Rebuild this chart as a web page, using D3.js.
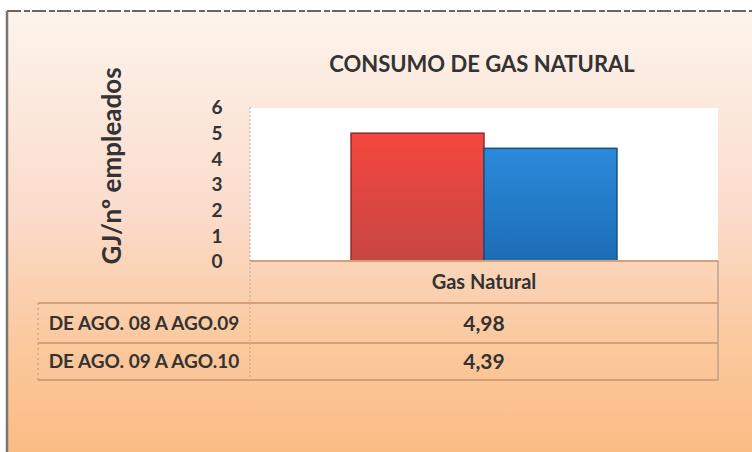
<!DOCTYPE html>
<html>
<head>
<meta charset="utf-8">
<script src="https://cdn.jsdelivr.net/npm/d3@7"></script>
<style>
  html, body { margin: 0; padding: 0; background: #fff; }
  #chart { width: 752px; height: 452px; }
  text { font-family: Lato, "Open Sans", sans-serif; font-weight: bold; fill: #333; }
</style>
</head>
<body>
<div id="chart"></div>
<script>
// datos del gráfico
const categorias = ["Gas Natural"];
const series = ["DE AGO. 08 A AGO.09", "DE AGO. 09 A AGO.10"];
const valores = [4.98, 4.39];
const etiquetasValor = ["4,98", "4,39"];
const ticksY = [0, 1, 2, 3, 4, 5, 6];
const titulo = "CONSUMO DE GAS NATURAL";
const tituloEjeY = "GJ/nº empleados";

const width = 752, height = 452;
const plot = { left: 250, right: 718, top: 107, bottom: 261 };
const filaAlto = [42, 40, 37]; // cabecera, fila 1, fila 2

const svg = d3.select("#chart").append("svg")
  .attr("width", width)
  .attr("height", height);

const defs = svg.append("defs");

// fondo degradado
const bg = defs.append("linearGradient").attr("id", "bg")
  .attr("x1", 0).attr("y1", 0).attr("x2", 0).attr("y2", 1);
bg.append("stop").attr("offset", "0%").attr("stop-color", "#fdf4ec");
bg.append("stop").attr("offset", "45%").attr("stop-color", "#fbdccc");
bg.append("stop").attr("offset", "75%").attr("stop-color", "#fbc99e");
bg.append("stop").attr("offset", "100%").attr("stop-color", "#fbbc84");

const gradRed = defs.append("linearGradient").attr("id", "gRed")
  .attr("x1", 0).attr("y1", 0).attr("x2", 0).attr("y2", 1);
gradRed.append("stop").attr("offset", "0%").attr("stop-color", "#f5473e");
gradRed.append("stop").attr("offset", "100%").attr("stop-color", "#c74644");

const gradBlue = defs.append("linearGradient").attr("id", "gBlue")
  .attr("x1", 0).attr("y1", 0).attr("x2", 0).attr("y2", 1);
gradBlue.append("stop").attr("offset", "0%").attr("stop-color", "#2c8ada");
gradBlue.append("stop").attr("offset", "100%").attr("stop-color", "#1c6db6");

svg.append("rect")
  .attr("x", 7).attr("y", 11)
  .attr("width", width - 7).attr("height", height - 11)
  .attr("fill", "url(#bg)");

// borde escaneado
svg.append("line").attr("x1", 7).attr("x2", width).attr("y1", 11).attr("y2", 11)
  .attr("stroke", "#666").attr("stroke-width", 2).attr("stroke-dasharray", "14 3 6 2");
svg.append("line").attr("x1", 7).attr("x2", 7).attr("y1", 11).attr("y2", height)
  .attr("stroke", "#777").attr("stroke-width", 2.5);

// área de trazado
svg.append("rect")
  .attr("x", plot.left).attr("y", plot.top + 1)
  .attr("width", plot.right - plot.left).attr("height", plot.bottom - plot.top)
  .attr("fill", "#ffffff");

const x0 = d3.scaleBand()
  .domain(categorias)
  .range([plot.left, plot.right]);

const x1 = d3.scaleBand()
  .domain(series)
  .range([0, x0.bandwidth()])
  .paddingOuter(0.76)
  .paddingInner(0);

const y = d3.scaleLinear()
  .domain([0, 6])
  .range([plot.bottom, plot.top]);

const color = d3.scaleOrdinal().domain(series).range(["url(#gRed)", "url(#gBlue)"]);
const borde = d3.scaleOrdinal().domain(series).range(["#8c2e2c", "#17507f"]);

// eje Y
const ejeY = svg.append("g")
  .attr("transform", `translate(${plot.left - 33},0)`)
  .call(d3.axisLeft(y).tickValues(ticksY).tickSize(0).tickPadding(0).tickFormat(d3.format("d")));
ejeY.select(".domain").remove();
ejeY.selectAll("text")
  .attr("text-anchor", "middle")
  .attr("dy", "0.36em")
  .style("font-size", "19px")
  .style("font-family", "Lato, sans-serif")
  .style("fill", "#333");

// línea punteada izquierda
svg.append("line")
  .attr("x1", plot.left).attr("x2", plot.left)
  .attr("y1", plot.top).attr("y2", plot.bottom + filaAlto[0] + filaAlto[1] + filaAlto[2])
  .attr("stroke", "#b9a89c").attr("stroke-width", 1).attr("stroke-dasharray", "2 2");

// barras
const datos = series.map((s, i) => ({ serie: s, valor: valores[i], cat: categorias[0] }));
svg.append("g").selectAll("rect")
  .data(datos)
  .enter()
  .append("rect")
  .attr("x", d => x0(d.cat) + x1(d.serie))
  .attr("y", d => y(d.valor))
  .attr("width", x1.bandwidth())
  .attr("height", d => y(0) - y(d.valor))
  .attr("fill", d => color(d.serie))
  .attr("stroke", d => borde(d.serie))
  .attr("stroke-width", 1.5);

// título
svg.append("text")
  .attr("x", 482).attr("y", 72)
  .attr("text-anchor", "middle")
  .style("font-size", "22px")
  .text(titulo);

// título eje Y
svg.append("text")
  .attr("transform", "translate(121,166) rotate(-90)")
  .attr("text-anchor", "middle")
  .style("font-size", "26px")
  .text(tituloEjeY);

// tabla de datos
const tabla = svg.append("g");
const yFila = [plot.bottom, plot.bottom + filaAlto[0], plot.bottom + filaAlto[0] + filaAlto[1]];
const yFin = yFila[2] + filaAlto[2];
const lineaColor = "#d4a07c";

// líneas horizontales
[yFila[0], yFila[1], yFila[2], yFin].forEach((yy, i) => {
  tabla.append("line")
    .attr("x1", i === 0 ? plot.left : 38).attr("x2", plot.right)
    .attr("y1", yy).attr("y2", yy)
    .attr("stroke", lineaColor).attr("stroke-width", 2);
});
tabla.append("line")
  .attr("x1", plot.right).attr("x2", plot.right)
  .attr("y1", yFila[0]).attr("y2", yFin)
  .attr("stroke", "#bfa08c").attr("stroke-width", 1.5);
tabla.append("line")
  .attr("x1", 38).attr("x2", 38)
  .attr("y1", yFila[1]).attr("y2", yFin)
  .attr("stroke", "#a89888").attr("stroke-width", 1).attr("stroke-dasharray", "2 3");

// cabecera
tabla.append("text")
  .attr("x", x0(categorias[0]) + x0.bandwidth() / 2)
  .attr("y", yFila[0] + filaAlto[0] / 2)
  .attr("dy", "0.36em")
  .attr("text-anchor", "middle")
  .style("font-size", "20px")
  .text(categorias[0]);

// filas
series.forEach((s, i) => {
  const yc = yFila[i + 1] + filaAlto[i + 1] / 2;
  tabla.append("text")
    .attr("x", 144).attr("y", yc)
    .attr("dy", "0.36em")
    .attr("text-anchor", "middle")
    .style("font-size", "19px")
    .text(s);
  tabla.append("text")
    .attr("x", x0(categorias[0]) + x0.bandwidth() / 2)
    .attr("y", yc)
    .attr("dy", "0.36em")
    .attr("text-anchor", "middle")
    .style("font-size", "21px")
    .text(etiquetasValor[i]);
});
</script>
</body>
</html>
